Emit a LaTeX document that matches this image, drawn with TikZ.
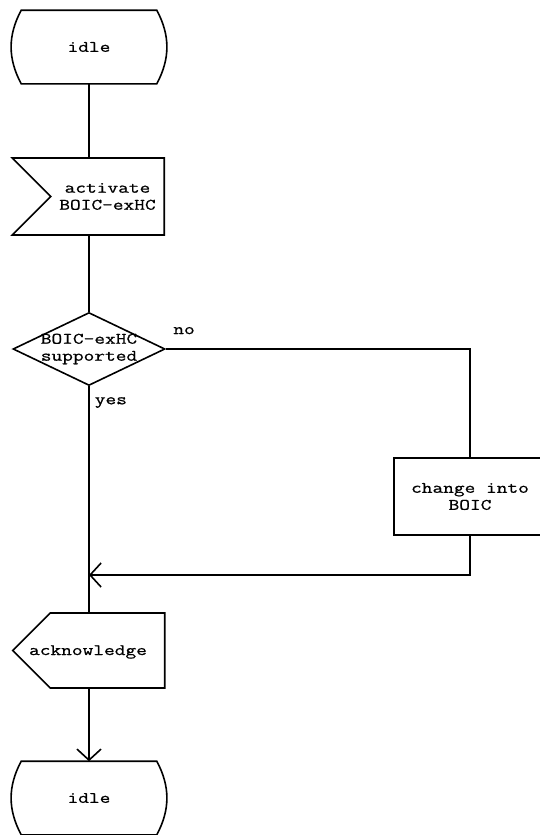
\documentclass[tikz,border=0pt]{standalone}
\usepackage{fontspec}
\setmonofont{Latin Modern Mono}[FakeStretch=1.3, FakeBold=0.8]
\usetikzlibrary{shapes.geometric,shapes.symbols,arrows.meta}

\begin{document}
\begin{tikzpicture}[x=1pt, y=-1pt, line width=1.6pt,
  sdl/.style={inner sep=0, node font=\ttfamily\fontsize{16}{17}\selectfont, align=center},
  statebox/.style={sdl, rectangle, minimum width=134, minimum height=72},
  inbox/.style={sdl, draw, signal, signal from=west, signal to=nowhere, minimum width=152, minimum height=77},
  outbox/.style={sdl, draw, signal, signal to=west, minimum width=152, minimum height=75},
  decision/.style={sdl, draw, diamond, minimum width=152, minimum height=73},
  taskbox/.style={sdl, draw, rectangle, minimum width=152, minimum height=77},
  branch/.style={sdl, pos=#1},
  tip/.style={-{Straight Barb[length=11pt,width=24pt]}}]

\useasboundingbox (0,0) rectangle (539,835);

\node [statebox] (IDLE) at (89,47) {idle};
\node [inbox] (ACT) at (107.5,196.5) {activate\\BOIC-exHC};
\node [decision] (SUP) at (89,349) {};
\node [sdl] (SUPT) at (89,349) {BOIC-exHC\\supported};
\node [taskbox] (CHG) at (470,496.5) {change into\\BOIC};
\node [outbox] (ACK) at (107.5,650.5) {};
\node [sdl] (ACKT) at (88,652) {acknowledge};
\node [statebox] (IDLE2) at (89,798) {idle};
\coordinate (JOIN) at (89,575);

% state symbols have bulging sides
\foreach \s in {IDLE, IDLE2}
  \draw (\s.north west) -- (\s.north east) to[bend left=28] (\s.south east)
    -- (\s.south west) to[bend left=28] (\s.north west) -- cycle;

\draw (IDLE) -- (IDLE |- ACT.north);
\draw (SUP |- ACT.south) -- (SUP);
\draw (SUP) -- (SUP |- ACK.north) node [branch=0.072, right=5] {yes};
\draw (SUP.east) -| (CHG.north) node [branch=0.03, above=14] {no};
\draw [tip] (CHG.south) |- (JOIN);
\draw [tip] (IDLE2 |- ACK.south) -- (IDLE2);

\end{tikzpicture}
\end{document}
